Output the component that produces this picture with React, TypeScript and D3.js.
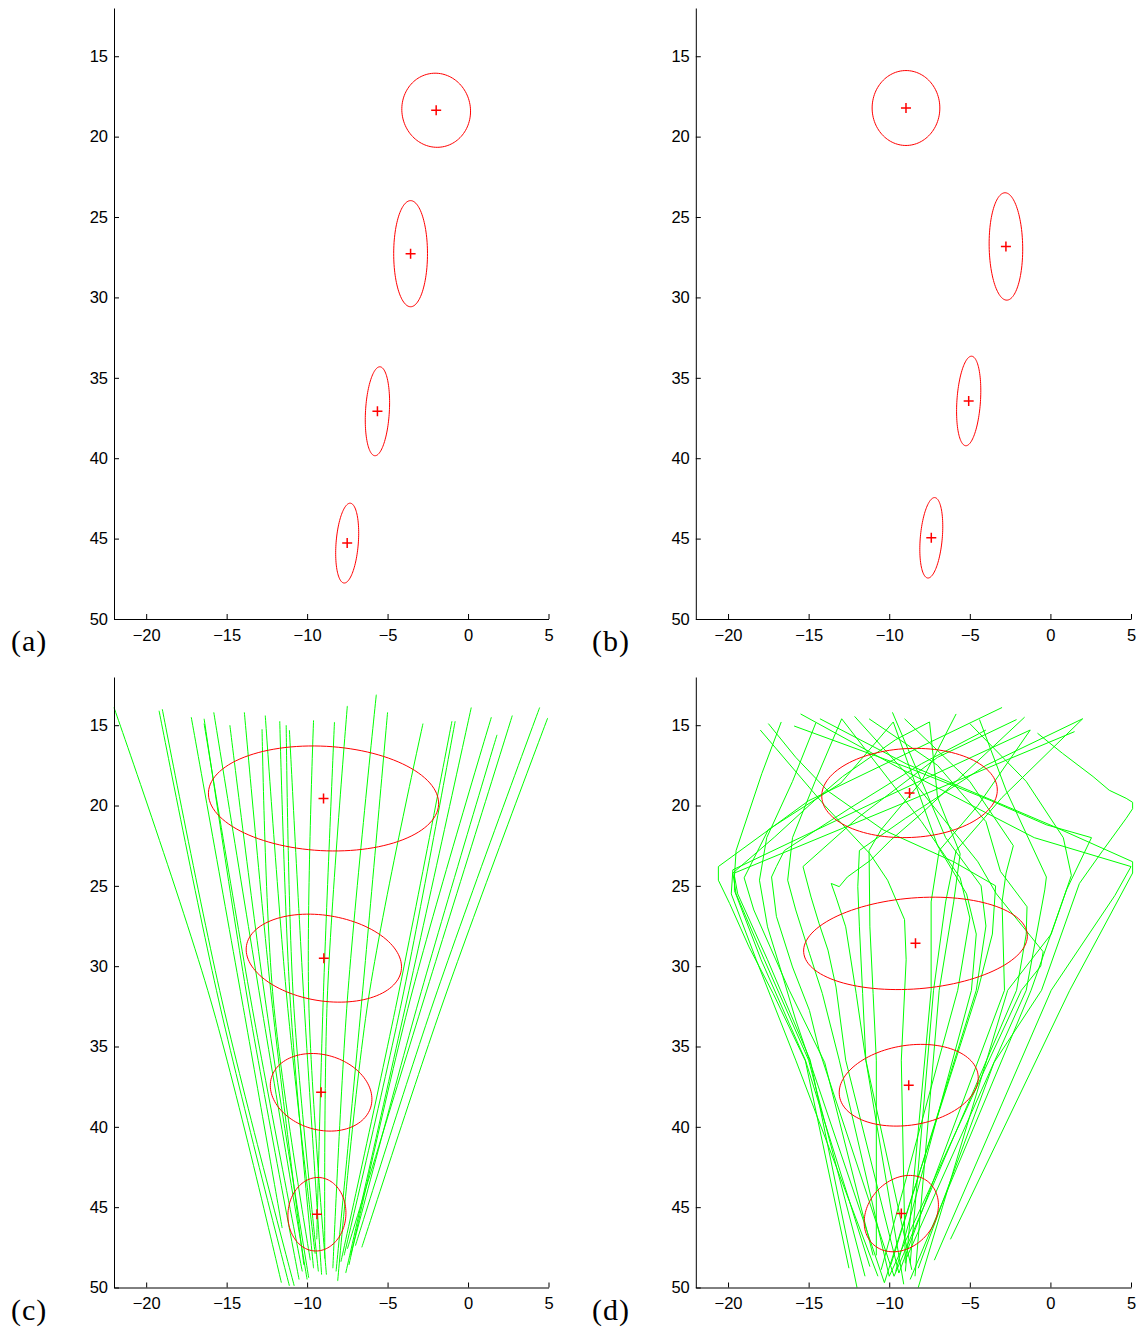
import React, { useEffect, useRef } from 'react';
import * as d3 from 'd3';

const xDomain = [-22, 5];
const yDomain = [12, 50];
const xTicks = [-20, -15, -10, -5, 0, 5];
const yTicks = [15, 20, 25, 30, 35, 40, 45, 50];
const panelLabels = ['(a)', '(b)', '(c)', '(d)'];

// ellipses: [cx, cy, rx, ry, rotation in degrees]
const ellipsesA = [
  [-1.98, 18.36, 2.13, 2.31, -10],
  [-3.57, 27.28, 1.05, 3.3, 0],
  [-5.63, 37.08, 0.74, 2.77, 3.3],
  [-7.51, 45.28, 0.69, 2.49, 4.5],
];
const ellipsesB = [
  [-8.96, 18.22, 2.1, 2.33, 0],
  [-2.76, 26.83, 1.04, 3.34, -1],
  [-5.07, 36.44, 0.73, 2.79, 3.8],
  [-7.39, 44.95, 0.68, 2.51, 5],
];
const ellipsesC = [
  [-8.98, 19.56, 7.16, 3.25, 3.1],
  [-8.96, 29.5, 4.87, 2.66, 9.2],
  [-9.13, 37.85, 3.22, 2.33, 16.6],
  [-9.39, 45.44, 1.8, 2.29, 4],
];
const ellipsesD = [
  [-8.74, 19.22, 5.45, 2.77, -2.6],
  [-8.37, 28.58, 6.96, 2.83, -4.6],
  [-8.79, 37.41, 4.35, 2.48, -9.1],
  [-9.25, 45.4, 2.59, 2.06, -49],
];

// trajectories in (c): top, middle, bottom
const tracksC = [
  [[-22.0, 13.9], [-16.0, 32.1], [-11.6, 49.7]],
  [[-19.2, 14.1], [-15.5, 32.1], [-11.1, 49.9]],
  [[-19.0, 14.0], [-15.3, 32.1], [-10.8, 49.9]],
  [[-17.2, 14.5], [-14.05, 32.1], [-11.55, 46.3]],
  [[-16.4, 14.6], [-13.7, 32.1], [-10.5, 49.5]],
  [[-16.4, 14.9], [-13.5, 32.1], [-10.3, 49.0]],
  [[-15.8, 14.2], [-12.9, 32.1], [-10.0, 49.5]],
  [[-14.8, 15.0], [-12.6, 32.1], [-9.9, 49.4]],
  [[-13.9, 14.2], [-12.2, 32.1], [-10.2, 48.6]],
  [[-12.8, 15.25], [-12.1, 32.1], [-9.8, 48.3]],
  [[-12.6, 14.4], [-11.25, 32.1], [-9.5, 47.9]],
  [[-11.7, 14.75], [-11.05, 32.1], [-9.6, 48.8]],
  [[-11.3, 15.0], [-10.85, 32.1], [-9.3, 49.0]],
  [[-11.1, 15.3], [-10.2, 32.1], [-9.1, 49.2]],
  [[-9.6, 14.7], [-9.9, 32.1], [-8.8, 49.2]],
  [[-8.3, 14.8], [-9.0, 32.1], [-9.4, 47.0]],
  [[-7.5, 13.8], [-8.75, 32.1], [-8.9, 48.2]],
  [[-5.7, 13.1], [-7.5, 32.1], [-8.4, 48.8]],
  [[-5.0, 14.2], [-6.6, 32.1], [-8.2, 49.0]],
  [[-2.8, 14.9], [-6.2, 32.1], [-8.1, 49.6]],
  [[-1.0, 14.75], [-4.4, 32.1], [-7.9, 48.4]],
  [[-0.8, 14.75], [-4.1, 32.1], [-7.7, 48.0]],
  [[0.2, 13.9], [-3.8, 32.1], [-7.6, 49.1]],
  [[1.45, 14.5], [-3.6, 32.1], [-7.4, 48.6]],
  [[1.8, 15.6], [-3.05, 32.1], [-7.3, 48.0]],
  [[2.75, 14.4], [-2.75, 32.1], [-7.5, 47.6]],
  [[4.45, 13.9], [-2.1, 32.1], [-7.0, 47.4]],
  [[4.95, 14.55], [-1.5, 32.1], [-6.6, 47.5]],
];

// trajectories in (d): bottom to top
const tracksD = [
  [[-12.5, 48.8], [-15.2, 35.9], [-17.2, 31.7], [-18.7, 28.8], [-19.9, 26.1], [-20.6, 24.65], [-20.6, 23.8], [-15.0, 19.7], [-3.0, 13.9]],
  [[-12.0, 50.0], [-14.9, 35.85], [-17.55, 29.6], [-19.4, 25.5], [-19.6, 24.4], [-19.5, 22.8], [-17.9, 18.0], [-16.7, 14.8]],
  [[-11.5, 49.3], [-15.0, 35.85], [-17.75, 29.6], [-19.5, 25.5], [-19.7, 24.2], [-17.1, 21.95], [-14.65, 19.7], [-12.9, 18.2], [-9.6, 15.9], [-7.5, 14.8]],
  [[-11.2, 48.7], [-15.2, 35.85], [-17.95, 29.6], [-19.6, 25.3], [-19.6, 24.2], [-9.0, 19.8], [1.5, 15.4]],
  [[-10.7, 49.3], [-15.8, 35.85], [-18.25, 29.6], [-19.8, 25.5], [-19.7, 24.0], [-10.5, 19.6], [-1.25, 15.3]],
  [[-10.3, 49.7], [-14.95, 35.85], [-15.8, 33.35], [-16.6, 30.65], [-17.55, 27.55], [-18.05, 24.65], [-17.6, 22.0], [-16.0, 18.5], [-14.55, 14.85]],
  [[-9.7, 49.3], [-14.35, 35.2], [-14.95, 32.75], [-16.0, 30.05], [-17.0, 26.9], [-17.3, 24.45], [-17.0, 23.8], [-16.5, 22.8], [-12.5, 20.2], [-8.0, 17.4], [-4.0, 15.3]],
  [[-10.0, 49.3], [-13.1, 35.85], [-14.15, 31.7], [-14.95, 29.2], [-15.8, 26.5], [-16.3, 24.65], [-16.0, 22.0], [-14.6, 18.5], [-12.95, 14.6]],
  [[-9.4, 49.1], [-12.7, 35.85], [-13.3, 31.3], [-13.8, 29.0], [-14.35, 27.35], [-14.85, 25.7], [-15.35, 23.8], [-12.0, 20.8], [-7.0, 17.0], [-2.1, 14.65]],
  [[-9.1, 49.8], [-11.45, 35.85], [-12.05, 31.7], [-12.7, 27.55], [-13.3, 25.7], [-13.6, 24.85], [-13.1, 25.05], [-12.6, 24.45], [-11.15, 23.4], [-9.9, 22.15], [-8.0, 20.5], [-5.75, 18.4], [-1.6, 14.5]],
  [[-8.6, 48.9], [-11.45, 35.85], [-11.65, 31.7], [-11.85, 27.55], [-11.95, 25.05], [-11.85, 22.8], [-9.0, 20.8], [-4.0, 17.5], [2.0, 14.6]],
  [[-10.8, 48.0], [-10.8, 35.85], [-11.0, 31.7], [-11.2, 27.55], [-11.25, 22.8], [-10.5, 21.5], [-8.0, 18.5], [-5.85, 14.3]],
  [[-9.0, 48.5], [-9.25, 35.85], [-8.95, 29.6], [-9.05, 27.1], [-10.1, 24.65], [-11.2, 23.0], [-14.0, 20.0], [-18.0, 15.3]],
  [[-11.0, 48.0], [-14.0, 36.0], [-16.2, 31.5], [-18.4, 26.5], [-19.0, 24.5], [-17.5, 21.5], [-13.0, 18.6], [-9.75, 14.8]],
  [[-6.2, 47.0], [1.2, 31.5], [5.1, 24.2], [5.1, 23.5], [0.2, 21.3], [-8.95, 17.4], [-14.3, 14.6]],
  [[-7.2, 48.3], [0.05, 31.5], [4.0, 25.6], [5.0, 23.8], [-1.0, 22.0], [-9.5, 17.6], [-15.5, 14.3]],
  [[-8.2, 48.8], [-3.5, 36.0], [-0.55, 31.5], [1.8, 24.85], [3.25, 22.8], [4.7, 20.8], [5.1, 20.2], [5.1, 19.8], [4.7, 19.55], [3.65, 19.05], [2.65, 18.2], [0.75, 16.75], [-0.8, 15.5]],
  [[-8.7, 49.5], [-1.2, 31.5], [1.0, 25.25], [2.55, 22.0], [-0.25, 21.2], [-3.8, 19.65], [-8.95, 17.6], [-15.9, 15.05]],
  [[-8.9, 48.1], [-1.5, 31.5], [-0.35, 25.25], [-0.25, 24.45], [-2.75, 19.05], [-4.4, 14.65]],
  [[-9.4, 49.1], [-2.85, 31.5], [-3.0, 26.0], [-2.75, 24.2], [-2.3, 22.5], [-5.0, 18.5], [-9.05, 14.6]],
  [[-9.7, 49.3], [-2.1, 31.5], [-1.5, 28.0], [-1.45, 26.3], [-3.1, 24.1], [-4.0, 21.0], [-7.0, 17.5], [-11.25, 14.6]],
  [[-10.0, 49.3], [-1.8, 31.5], [-0.6, 30.0], [-0.45, 29.1], [-3.35, 25.5], [-4.5, 23.5], [-8.5, 18.5], [-12.15, 14.45]],
  [[-8.2, 50.0], [-2.65, 31.5], [0.05, 28.0], [1.3, 24.35], [0.8, 22.0], [-1.5, 18.5], [-5.0, 14.9]],
  [[-10.3, 49.7], [-4.5, 31.5], [-3.6, 28.0], [-3.4, 25.0], [-6.0, 23.5], [-10.4, 21.5], [-13.8, 19.1], [-15.8, 17.0], [-17.5, 14.9]],
  [[-9.9, 48.6], [-4.6, 31.5], [-4.0, 27.5], [-4.3, 25.0], [-6.5, 22.0], [-9.8, 14.2]],
  [[-9.6, 49.0], [-4.9, 31.5], [-4.6, 28.0], [-5.2, 25.5], [-7.0, 22.5], [-9.75, 14.8]],
  [[-10.5, 48.9], [-5.75, 31.5], [-5.0, 27.0], [-5.6, 24.5], [-8.0, 21.0], [-12.95, 14.6]],
  [[-9.0, 49.0], [-7.4, 31.5], [-7.4, 26.0], [-6.9, 22.8], [-4.5, 20.0], [-1.25, 15.3]],
  [[-8.7, 48.5], [-7.25, 31.5], [-6.5, 26.0], [-5.85, 22.8], [-3.0, 19.5], [2.0, 14.6]],
  [[-8.4, 49.3], [-6.9, 31.5], [-6.0, 26.0], [-5.6, 23.0], [-7.0, 19.5], [-7.5, 14.8]],
];

const panels = [
  { ellipses: ellipsesA, tracks: [], smooth: true, xr: [114, 548.5], yr: [8, 619], lx: 11 },
  { ellipses: ellipsesB, tracks: [], smooth: true, xr: [695.8, 1131], yr: [8, 619], lx: 592 },
  { ellipses: ellipsesC, tracks: tracksC, smooth: true, xr: [114, 548.5], yr: [677, 1287.5], lx: 11 },
  { ellipses: ellipsesD, tracks: tracksD, smooth: false, xr: [695.8, 1131], yr: [677, 1287.5], lx: 592 },
];

function ellipsePoints([cx, cy, rx, ry, deg]) {
  const a = (deg * Math.PI) / 180;
  return d3.range(0, 121).map(i => {
    const t = (i / 120) * 2 * Math.PI;
    const ex = rx * Math.cos(t);
    const ey = ry * Math.sin(t);
    return [cx + ex * Math.cos(a) - ey * Math.sin(a), cy + ex * Math.sin(a) + ey * Math.cos(a)];
  });
}

export default function App() {
  const ref = useRef(null);

  useEffect(() => {
    const svg = d3.select(ref.current);
    svg.selectAll('*').remove();

    panels.forEach((p, k) => {
      const x = d3.scaleLinear().domain(xDomain).range(p.xr);
      const y = d3.scaleLinear().domain(yDomain).range(p.yr);
      const g = svg.append('g');

      // tracks
      const line = d3.line()
        .x(d => x(d[0]))
        .y(d => y(d[1]))
        .curve(p.smooth ? d3.curveCatmullRom.alpha(0.5) : d3.curveLinear);
      g.append('g')
        .selectAll('path')
        .data(p.tracks)
        .enter()
        .append('path')
        .attr('d', d => line(d))
        .attr('fill', 'none')
        .attr('stroke', '#00ff00')
        .attr('stroke-width', 1);

      // axes
      const yAxis = g.append('g')
        .attr('transform', `translate(${p.xr[0]},0)`)
        .call(d3.axisLeft(y).tickValues(yTicks).tickSizeInner(-5).tickSizeOuter(0).tickPadding(6));
      const xAxis = g.append('g')
        .attr('transform', `translate(0,${p.yr[1]})`)
        .call(d3.axisBottom(x).tickValues(xTicks).tickSizeInner(-5).tickSizeOuter(0).tickPadding(10));
      [xAxis, yAxis].forEach(ax => {
        ax.attr('font-size', 16.5).attr('font-family', '"Liberation Sans", Arial, sans-serif');
        ax.select('.domain').attr('stroke', '#000');
        ax.selectAll('.tick line').attr('stroke', '#000');
        ax.selectAll('.tick text').attr('fill', '#000');
      });

      // ellipses
      const eline = d3.line()
        .x(d => x(d[0]))
        .y(d => y(d[1]))
        .curve(d3.curveLinearClosed);
      g.append('g')
        .selectAll('path')
        .data(p.ellipses)
        .enter()
        .append('path')
        .attr('d', d => eline(ellipsePoints(d)))
        .attr('fill', 'none')
        .attr('stroke', '#ff0000')
        .attr('stroke-width', 1);

      // centres
      g.append('g')
        .selectAll('path')
        .data(p.ellipses)
        .enter()
        .append('path')
        .attr('d', 'M-5,0H5M0,-5V5')
        .attr('transform', d => `translate(${x(d[0])},${y(d[1])})`)
        .attr('stroke', '#ff0000')
        .attr('stroke-width', 1.5);

      g.append('text')
        .attr('x', p.lx)
        .attr('y', p.yr[1] + 32)
        .attr('font-family', '"Liberation Serif", "Times New Roman", serif')
        .attr('font-size', 30)
        .attr('letter-spacing', 1)
        .attr('fill', '#000')
        .text(panelLabels[k]);
    });
  }, []);

  return (
    <svg
      ref={ref}
      width={1140}
      height={1327}
      style={{ position: 'absolute', left: 0, top: 0, background: '#fff' }}
    />
  );
}
